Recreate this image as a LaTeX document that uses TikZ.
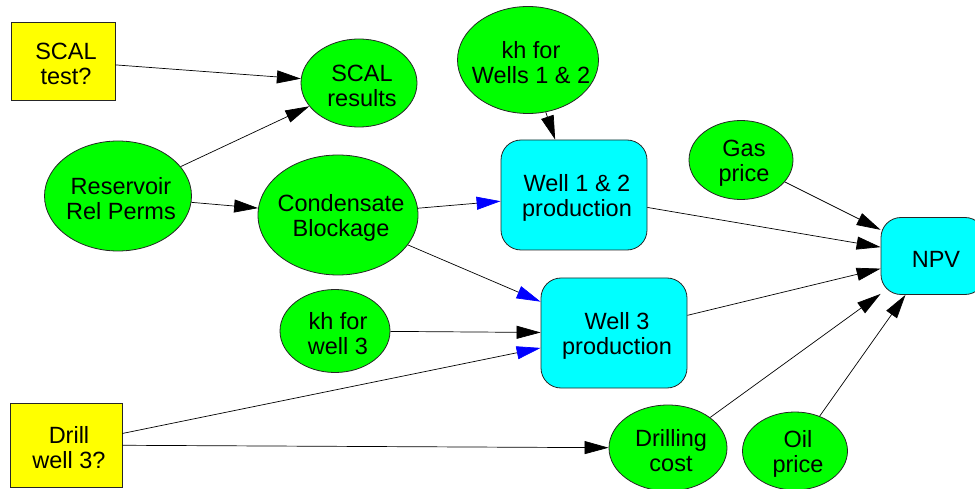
\documentclass[tikz,border=0pt]{standalone}
\usepackage{fontspec}
\setmainfont{Liberation Sans}
\usetikzlibrary{shapes.geometric,arrows.meta}
\definecolor{cyanx}{RGB}{0,255,255}
\definecolor{greenx}{RGB}{0,255,0}
\definecolor{yellowx}{RGB}{255,255,0}
\definecolor{bluex}{RGB}{0,0,255}
\tikzset{
  base/.style={draw=black!85, line width=0.8pt, inner sep=0pt},
  ell/.style={base, ellipse, fill=greenx},
  dec/.style={base, rectangle, fill=yellowx},
  val/.style={base, rectangle, rounded corners=20pt, fill=cyanx},
  lbl/.style={align=center, inner sep=0pt, xshift=3pt, yshift=-3pt},
  conn/.style={line width=0.7pt, -{Triangle[length=24pt,width=13pt]}},
  bconn/.style={line width=0.7pt, -{Triangle[length=24pt,width=13pt,color=bluex]}},
}
\begin{document}
\begin{tikzpicture}[x=1pt,y=-1pt, font=\fontsize{23.5}{25}\selectfont]
\useasboundingbox (0,0) rectangle (975,489);
\node[dec, minimum width=104pt, minimum height=78pt, label={[lbl]center:{SCAL\\test?}}] (st) at (63,61) {};
\node[dec, minimum width=112pt, minimum height=84pt, label={[lbl]center:{Drill\\well 3?}}] (dw) at (66,445) {};
\node[ell, minimum width=116pt, minimum height=88pt, label={[lbl]center:{SCAL\\results}}] (sr) at (359,83) {};
\node[ell, minimum width=147pt, minimum height=110pt, label={[lbl]center:{Reservoir\\Rel Perms}}] (rp) at (118,196) {};
\node[ell, minimum width=160pt, minimum height=120pt, label={[lbl]center:{Condensate\\Blockage}}] (cb) at (338,215) {};
\node[ell, minimum width=141pt, minimum height=107pt, label={[lbl]center:{kh for\\Wells 1 \& 2}}] (kh12) at (528,60) {};
\node[ell, minimum width=104pt, minimum height=79pt, label={[lbl]center:{Gas\\price}}] (gp) at (741,160) {};
\node[ell, minimum width=110pt, minimum height=83pt, label={[lbl]center:{kh for\\well 3}}] (kh3) at (335,331) {};
\node[ell, minimum width=118pt, minimum height=86pt, label={[lbl]center:{Drilling\\cost}}] (dc) at (668,448) {};
\node[ell, minimum width=105pt, minimum height=78pt, label={[lbl]center:{Oil\\price}}] (op) at (795,451) {};
\node[val, minimum width=146pt, minimum height=110pt, label={[lbl]center:{Well 1 \& 2\\production}}] (w12) at (574,195) {};
\node[val, minimum width=146pt, minimum height=110pt, label={[lbl]center:{Well 3\\production}}] (w3) at (614,333) {};
\node[val, minimum width=104pt, minimum height=77pt, label={[lbl]center:{NPV}}] (npv) at (933,256) {};
\draw[conn] (st) -- (sr);
\draw[conn] (rp) -- (sr);
\draw[conn] (rp) -- (cb);
\draw[bconn] (cb) -- (w12);
\draw[conn] (kh12) -- (w12);
\draw[bconn] (cb) -- (w3);
\draw[conn] (kh3) -- (w3);
\draw[bconn] (dw) -- (w3);
\draw[conn] (dw) -- (dc);
\draw[conn] (w12) -- (npv);
\draw[conn] (gp) -- (npv);
\draw[conn] (w3) -- (npv);
\draw[conn] (dc) -- (npv);
\draw[conn] (op) -- (npv);
\end{tikzpicture}
\end{document}
